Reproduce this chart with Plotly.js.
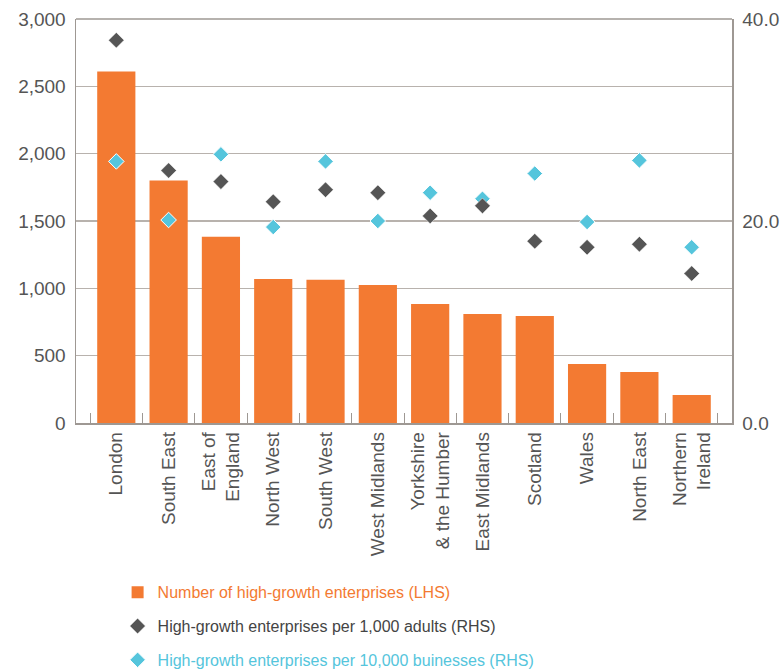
<!DOCTYPE html>
<html><head><meta charset="utf-8">
<script src="https://cdn.plot.ly/plotly-3.0.1.min.js"></script>
<style>html,body{margin:0;padding:0;background:#fff;}#chart{width:784px;height:669px;}</style>
</head><body><div id="chart"></div>
<script>
const regions = ["London","South East","East of<br>England","North West","South West","West Midlands","Yorkshire<br>& the Humber","East Midlands","Scotland","Wales","North East","Northern<br>Ireland"];
const enterprises = [2610,1800,1383,1070,1063,1025,884,810,795,438,379,208];
const perAdults = [37.9,25.0,23.9,21.9,23.1,22.8,20.5,21.5,18.0,17.4,17.7,14.8];
const perBusinesses = [25.9,20.1,26.6,19.4,25.9,20.0,22.8,22.2,24.7,19.9,26.0,17.4];

const ORANGE = "#f37a32", DARK = "#555555", CYAN = "#55c5dc";

const traces = [
  {type:"bar", x:regions, y:enterprises, yaxis:"y",
   name:'<span style="color:'+ORANGE+'">Number of high-growth enterprises (LHS)</span>',
   marker:{color:ORANGE}, legendgroup:"a", legendrank:1, hoverinfo:"skip"},
  {type:"scatter", mode:"markers", x:regions, y:perBusinesses, yaxis:"y2",
   name:'<span style="color:'+CYAN+'">High-growth enterprises per 10,000 buinesses (RHS)</span>',
   marker:{symbol:"diamond", size:12, color:CYAN, line:{color:"#ffffff", width:1}},
   legendgroup:"c", legendrank:3, hoverinfo:"skip"},
  {type:"scatter", mode:"markers", x:regions, y:perAdults, yaxis:"y2",
   name:'<span style="color:#444">High-growth enterprises per 1,000 adults (RHS)</span>',
   marker:{symbol:"diamond", size:12, color:DARK, line:{color:"#ffffff", width:0.5}},
   legendgroup:"b", legendrank:2, hoverinfo:"skip"}
];

const layout = {
  width:784, height:669,
  margin:{l:76, r:52, t:19, b:246, autoexpand:false},
  paper_bgcolor:"#fff", plot_bgcolor:"#fff",
  font:{family:"Liberation Sans, Arial, sans-serif", color:"#555", size:17},
  bargap:0.27,
  showlegend:true,
  legend:{orientation:"v", xref:"container", yref:"container", x:0.15, xanchor:"left", y:0.14, yanchor:"top",
          traceorder:"grouped", tracegroupgap:10, font:{size:16}, itemwidth:30},
  xaxis:{type:"category", showline:true, linecolor:"#9e9893", linewidth:1.5, mirror:false,
         ticks:"inside", tickson:"boundaries", ticklen:10, tickcolor:"#9e9893",
         tickangle:-90, tickfont:{size:19, color:"#555"}, showgrid:false, automargin:false},
  yaxis:{range:[0,3000], dtick:500, tickformat:",", showgrid:true, gridcolor:"#b8b2ad", gridwidth:1.5,
         showline:true, linecolor:"#9e9893", linewidth:1.5, ticks:"", tickfont:{size:19, color:"#555"},
         ticklabelstandoff:5, zeroline:false, automargin:false},
  yaxis2:{range:[0,40], dtick:20, tickformat:".1f", overlaying:"y", side:"right", showgrid:false,
          showline:true, linecolor:"#9e9893", linewidth:1.5, ticks:"", tickfont:{size:19, color:"#555"},
          ticklabelstandoff:5, zeroline:false, automargin:false},
  shapes:[{type:"line", xref:"paper", yref:"paper", x0:0, x1:1, y0:1, y1:1, line:{color:"#9e9893", width:1.5}}]
};

Plotly.newPlot("chart", traces, layout, {displayModeBar:false, staticPlot:true});
</script></body></html>
